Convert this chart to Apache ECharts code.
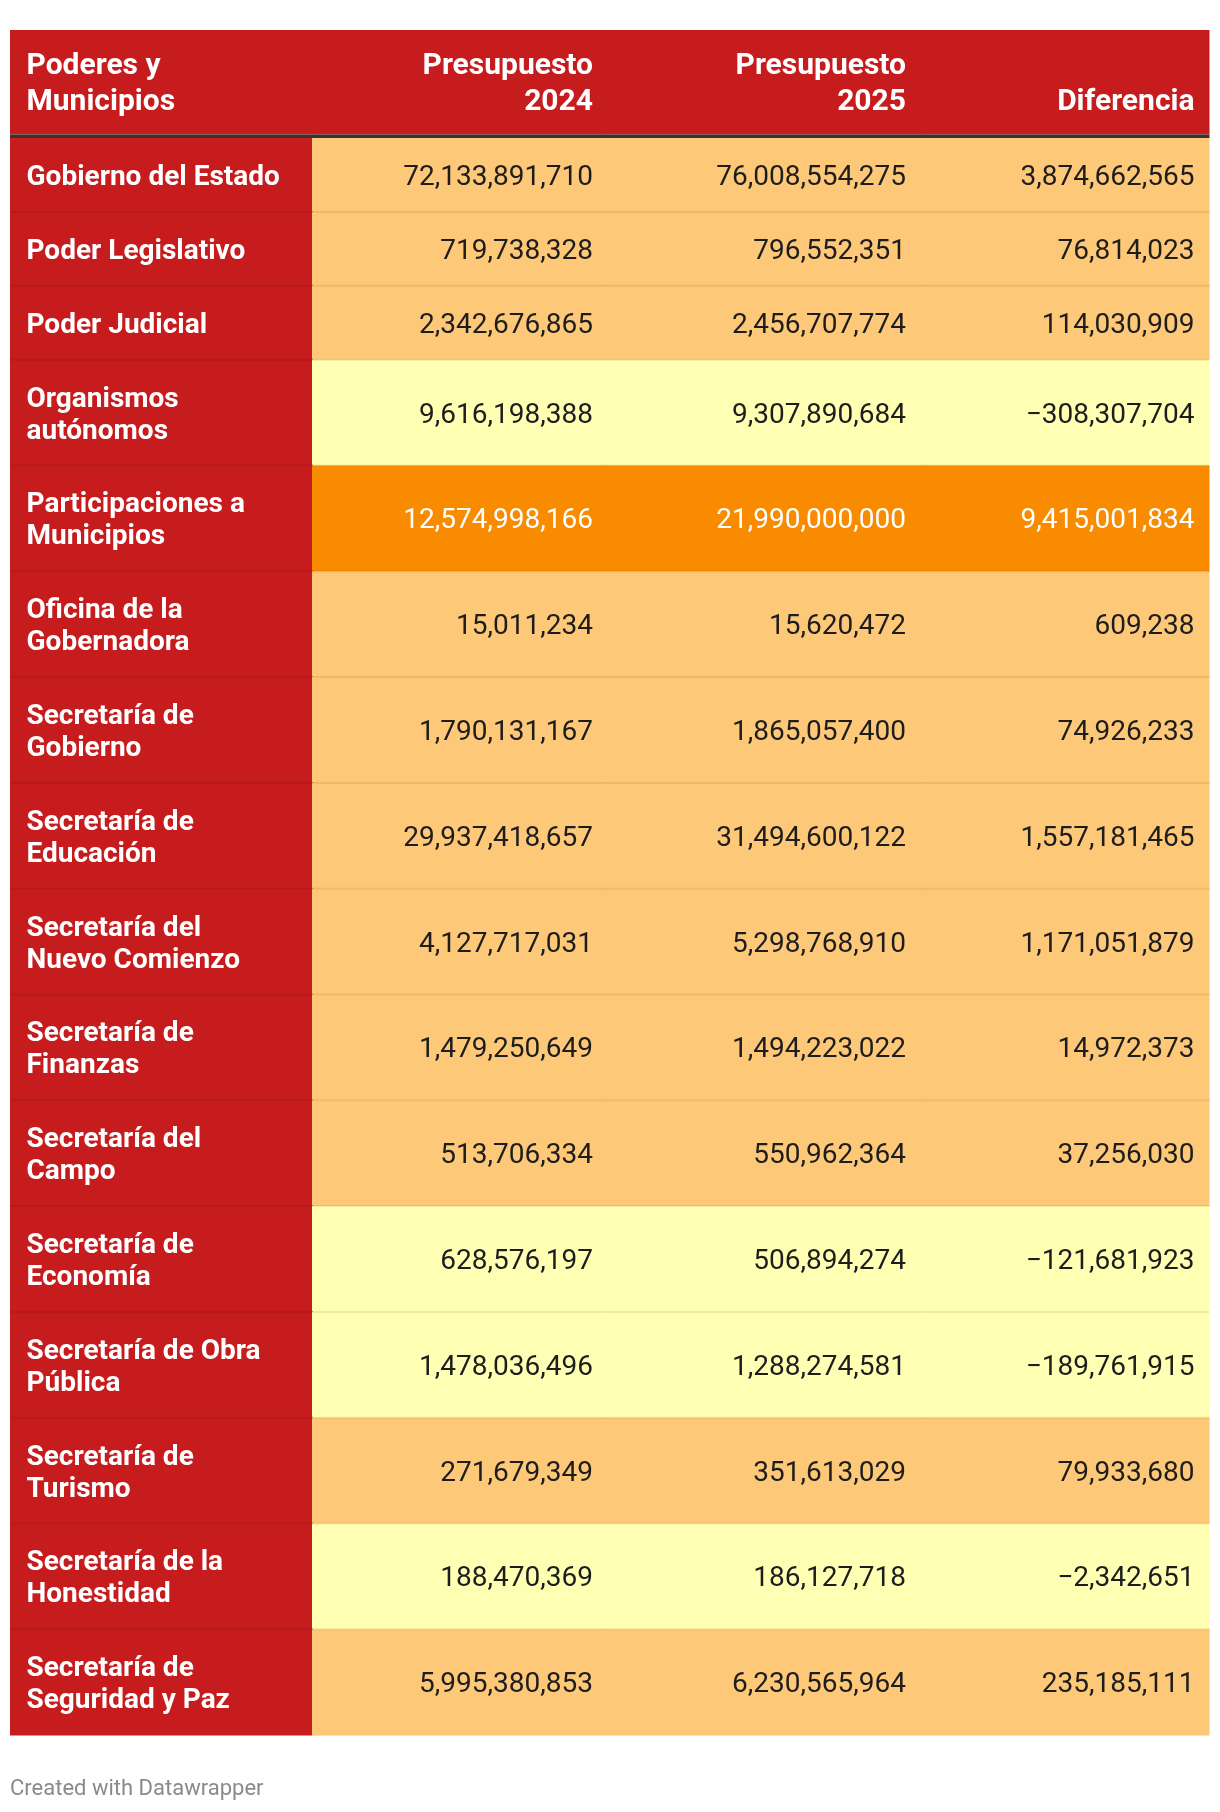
<!DOCTYPE html>
<html>
<head>
<meta charset="utf-8">
<script src="https://cdn.jsdelivr.net/npm/echarts@6/dist/echarts.min.js"></script>
<style>
html,body{margin:0;padding:0;background:#fff;}
#chart{width:1220px;height:1812px;}
</style>
</head>
<body>
<div id="chart"></div>
<script>
// ---- data ----
const headers = ['Poderes y\nMunicipios', 'Presupuesto\n2024', 'Presupuesto\n2025', 'Diferencia'];
const labels = ['Gobierno del Estado', 'Poder Legislativo', 'Poder Judicial', 'Organismos\nautónomos',
  'Participaciones a\nMunicipios', 'Oficina de la\nGobernadora', 'Secretaría de\nGobierno', 'Secretaría de\nEducación',
  'Secretaría del\nNuevo Comienzo', 'Secretaría de\nFinanzas', 'Secretaría del\nCampo', 'Secretaría de\nEconomía',
  'Secretaría de Obra\nPública', 'Secretaría de\nTurismo', 'Secretaría de la\nHonestidad', 'Secretaría de\nSeguridad y Paz'];
const presupuesto2024 = [72133891710, 719738328, 2342676865, 9616198388, 12574998166, 15011234, 1790131167, 29937418657,
  4127717031, 1479250649, 513706334, 628576197, 1478036496, 271679349, 188470369, 5995380853];
const presupuesto2025 = [76008554275, 796552351, 2456707774, 9307890684, 21990000000, 15620472, 1865057400, 31494600122,
  5298768910, 1494223022, 550962364, 506894274, 1288274581, 351613029, 186127718, 6230565964];
const diferencia = [3874662565, 76814023, 114030909, -308307704, 9415001834, 609238, 74926233, 1557181465,
  1171051879, 14972373, 37256030, -121681923, -189761915, 79933680, -2342651, 235185111];
const footer = 'Created with Datawrapper';

// ---- layout & style ----
const COL_EDGES = [0, 302, 597.5, 910.5, 1199];
const HEADER_H = 104.5, HEADER_RULE = 3.5;
const ROW_BASE = 42, ROW_LINE = 31.9;
const PAD = 16.5, PAD_R = 14.5;
const RED = '#c61c1e', RED_SEP = '#b71a1c';
const LIGHT = '#fdc877', YELLOW = '#ffffb3', ORANGE = '#f98b00';
const FONT = 'Roboto, "Noto Sans", sans-serif';
const FS = 28, HFS = 30;

function fmt(v) {
  const s = Math.abs(v).toLocaleString('en-US');
  return v < 0 ? '\u2212' + s : s;
}
function rowColor(i) {
  if (diferencia[i] < 0) return YELLOW;
  if (diferencia[i] / presupuesto2024[i] > 0.5) return ORANGE;
  return LIGHT;
}

// row edges computed from line counts
const rowTop = [], rowBot = [];
let yCur = HEADER_H + HEADER_RULE;
labels.forEach((l, i) => {
  const n = l.split('\n').length;
  rowTop.push(yCur);
  yCur += ROW_BASE + ROW_LINE * n;
  rowBot.push(yCur);
});
const TOTAL = yCur;

const columns = [labels, presupuesto2024, presupuesto2025, diferencia];
const cellData = [];
for (let r = 0; r < labels.length; r++) for (let c = 0; c < 4; c++) cellData.push([c, r]);
const headerData = headers.map((h, c) => [c, -1]);

function renderHeader(params, api) {
  const c = api.value(0);
  const p0 = api.coord([COL_EDGES[c], 0]);
  const p1 = api.coord([COL_EDGES[c + 1], HEADER_H]);
  const p2 = api.coord([COL_EDGES[c + 1], HEADER_H + HEADER_RULE]);
  const left = c === 0;
  const children = [
    { type: 'rect', shape: { x: p0[0], y: p0[1], width: p1[0] - p0[0] + 0.5, height: p1[1] - p0[1] }, style: { fill: RED } },
    { type: 'rect', shape: { x: p0[0], y: p1[1], width: p1[0] - p0[0] + 0.5, height: p2[1] - p1[1] }, style: { fill: '#333333' } }
  ];
  const lines = headers[c].split('\n');
  lines.forEach((ln, k) => {
    const fromBottom = lines.length - 1 - k;
    children.push({ type: 'text', style: {
      x: left ? p0[0] + PAD : p1[0] - PAD_R, y: p1[1] - 32.5 - fromBottom * 35.8,
      text: ln, fill: '#ffffff', fontFamily: FONT, fontSize: HFS, fontWeight: 'bold',
      align: left ? 'left' : 'right', verticalAlign: 'middle' } });
  });
  return { type: 'group', children };
}

function renderCell(params, api) {
  const c = api.value(0), r = api.value(1);
  const p0 = api.coord([COL_EDGES[c], rowTop[r]]);
  const p1 = api.coord([COL_EDGES[c + 1], rowBot[r]]);
  const bg = c === 0 ? RED : rowColor(r);
  const txtColor = (c === 0 || bg === ORANGE) ? '#ffffff' : '#1d1d1d';
  const left = c === 0;
  const children = [
    { type: 'rect', shape: { x: p0[0], y: p0[1], width: p1[0] - p0[0] + 0.5, height: p1[1] - p0[1] + 0.5 }, style: { fill: bg } }
  ];
  if (r > 0) {
    children.push({ type: 'rect', shape: { x: p0[0], y: p0[1] - 1, width: p1[0] - p0[0] + 0.5, height: 2 },
      style: { fill: c === 0 ? RED_SEP : 'rgba(150,80,0,0.12)' } });
  }
  children.push({ type: 'text', style: {
    x: left ? p0[0] + PAD : p1[0] - PAD_R, y: (p0[1] + p1[1]) / 2 + 3,
    text: c === 0 ? labels[r] : fmt(columns[c][r]),
    fill: txtColor, fontFamily: FONT, fontSize: FS, fontWeight: left ? 'bold' : 'normal',
    lineHeight: ROW_LINE, align: left ? 'left' : 'right', verticalAlign: 'middle' } });
  return { type: 'group', children };
}

const chart = echarts.init(document.getElementById('chart'), null, { renderer: 'canvas' });
chart.setOption({
  animation: false,
  backgroundColor: '#ffffff',
  title: { text: footer, left: 10, top: 1778.5, padding: 0,
    textStyle: { fontFamily: FONT, fontSize: 22, fontWeight: 'normal', color: '#8a8a8a' } },
  grid: { left: 10, right: 11, top: 30, bottom: 1812 - 30 - TOTAL },
  xAxis: { type: 'value', min: 0, max: COL_EDGES[4], show: false },
  yAxis: { type: 'value', min: 0, max: TOTAL, inverse: true, show: false },
  series: [
    { type: 'custom', renderItem: renderCell, data: cellData, encode: { x: 0, y: 1 }, silent: true },
    { type: 'custom', renderItem: renderHeader, data: headerData, encode: { x: 0 }, silent: true }
  ]
});
</script>
</body>
</html>
